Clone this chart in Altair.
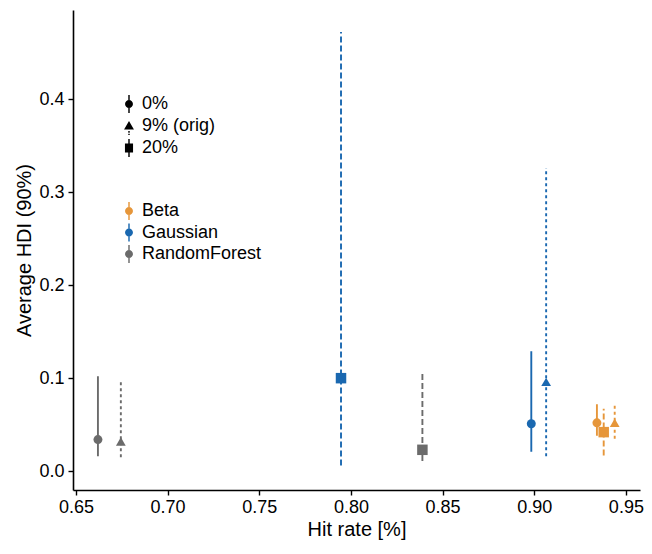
import altair as alt
import pandas as pd

levels = ["0%", "9% (orig)", "20%"]
models = ["Beta", "Gaussian", "RandomForest"]

# per model, per level (0%, 9% (orig), 20%)
hit_rate = {
    "Beta": [0.9342, 0.9439, 0.9379],
    "Gaussian": [0.8984, 0.9065, 0.7946],
    "RandomForest": [0.6620, 0.6745, 0.8390],
}
hdi_mean = {
    "Beta": [0.052, 0.052, 0.042],
    "Gaussian": [0.051, 0.096, 0.100],
    "RandomForest": [0.034, 0.032, 0.023],
}
hdi_low = {
    "Beta": [0.038, 0.035, 0.017],
    "Gaussian": [0.021, 0.016, 0.006],
    "RandomForest": [0.016, 0.015, 0.011],
}
hdi_high = {
    "Beta": [0.072, 0.073, 0.067],
    "Gaussian": [0.129, 0.326, 0.472],
    "RandomForest": [0.102, 0.097, 0.106],
}

colors = ["#E6963A", "#1A68B0", "#6B6B6B"]

rows = []
for m in models:
    for i, lv in enumerate(levels):
        rows.append({
            "model": m, "level": lv,
            "hit": hit_rate[m][i], "hdi": hdi_mean[m][i],
            "lo": hdi_low[m][i], "hi": hdi_high[m][i],
        })
df = pd.DataFrame(rows)

FONT = "Liberation Sans"
xdom = [0.6484, 0.9577]
ydom = [-0.0202, 0.4957]

xenc = alt.X("hit:Q", scale=alt.Scale(domain=xdom, nice=False, zero=False),
             axis=alt.Axis(values=[0.65, 0.70, 0.75, 0.80, 0.85, 0.90, 0.95], format=".2f",
                           title="Hit rate [%]"))
yenc = alt.Y("hdi:Q", scale=alt.Scale(domain=ydom, nice=False, zero=False),
             axis=alt.Axis(values=[0.0, 0.1, 0.2, 0.3, 0.4], format=".1f",
                           title="Average HDI (90%)"))

color_scale = alt.Scale(domain=models, range=colors)

rules = alt.Chart(df).mark_rule(strokeWidth=1.9).encode(
    x=xenc,
    y=alt.Y("lo:Q", scale=alt.Scale(domain=ydom, nice=False, zero=False)),
    y2="hi:Q",
    color=alt.Color("model:N", scale=color_scale, legend=None),
    strokeDash=alt.StrokeDash("level:N", scale=alt.Scale(domain=levels, range=[[1, 0], [3, 3], [6, 3]]),
                              legend=None),
)

points = alt.Chart(df).mark_point(filled=True, opacity=1).encode(
    x=xenc,
    y=yenc,
    color=alt.Color("model:N", scale=color_scale, legend=None),
    shape=alt.Shape("level:N", scale=alt.Scale(domain=levels, range=["circle", "triangle-up", "square"]),
                    legend=None),
    size=alt.Size("level:N", scale=alt.Scale(domain=levels, range=[80, 110, 85]), legend=None),
)

circ = "M0.44,0A0.44,0.44 0 1,1 -0.44,0A0.44,0.44 0 1,1 0.44,0Z"
stick = "M-0.08,-1H0.08V1H-0.08Z"
tri = "M0,-0.5L0.55,0.45L-0.55,0.45Z M-0.08,0.6H0.08V0.8H-0.08Z M-0.08,0.92H0.08V1.05H-0.08Z"
sq = "M-0.45,-0.5H0.45V0.5H-0.45Z M-0.08,-1H0.08V-0.5H-0.08Z M-0.08,0.5H0.08V1H-0.08Z"

leg_common = dict(title=None, orient="none", symbolSize=324, symbolOpacity=1,
                  symbolStrokeWidth=0, labelFontSize=18, labelFont=FONT, labelColor="black",
                  labelOffset=4, rowPadding=3.5, padding=0)

shape_leg = alt.Chart(df).mark_point(filled=True, size=324).encode(
    x=xenc, y=yenc,
    color=alt.value("black"),
    opacity=alt.value(0),
    shape=alt.Shape("level:N", scale=alt.Scale(domain=levels, range=[circ + " " + stick, tri, sq]),
                    legend=alt.Legend(legendX=47, legendY=85, symbolFillColor="black", **leg_common)),
)

color_leg = alt.Chart(df).mark_point(filled=True, size=324, shape=circ + " " + stick).encode(
    x=xenc, y=yenc,
    opacity=alt.value(0),
    color=alt.Color("model:N", scale=color_scale,
                    legend=alt.Legend(legendX=47, legendY=192, **leg_common)),
)

chart = alt.layer(rules, points, shape_leg, color_leg).resolve_scale(
    shape="independent", color="independent", strokeDash="independent", size="independent"
).properties(
    width=567, height=480,
    autosize=alt.AutoSizeParams(type="none"),
    padding={"left": 65, "top": 2, "right": 4, "bottom": 51},
).configure_view(stroke=None).configure_axis(
    grid=False, domainColor="black", domainWidth=1.6, tickColor="black", tickWidth=1.4,
    tickSize=5, labelColor="black", labelFontSize=18, labelFont=FONT,
    titleColor="black", titleFontSize=20, titleFont=FONT, titleFontWeight="normal",
).configure_axisX(titlePadding=3, labelPadding=3).configure_axisY(titlePadding=4, labelPadding=4)

chart.save("out.html", embed_options={"renderer": "svg", "actions": False})
